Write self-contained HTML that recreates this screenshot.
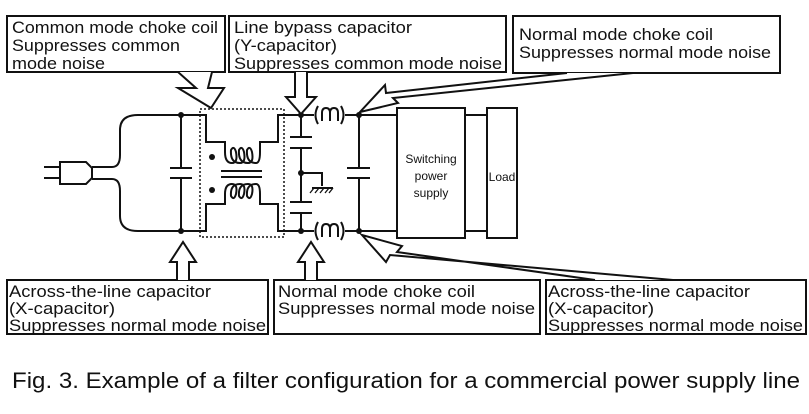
<!DOCTYPE html>
<html><head><meta charset="utf-8"><style>
html,body{margin:0;padding:0;background:#fff}
svg{display:block}
text{font-family:"Liberation Sans",Arial,sans-serif;fill:#111}
</style></head><body>
<svg width="809" height="414" viewBox="0 0 809 414">
<g stroke="#111" stroke-width="2" fill="none">
<g>
<line x1="44" y1="167" x2="60" y2="167"/><line x1="44" y1="178" x2="60" y2="178"/>
<path d="M60 162 H86 L92 168 V178 L86 184 H60 Z"/>
<path d="M92 167 H112 Q120 167 120 155 V130 Q120 115 138 115 H181"/>
<path d="M92 179 H112 Q120 179 120 191 V216 Q120 231 138 231 H181"/>
</g>
<g>
<path d="M181 115 V168 M170 168 H192 M170 178 H192 M181 178 V231"/>
</g>
<g>
<path d="M181 115 H206 V142 H225 V152 Q225 163 232 163 Q238 163 236 152 Q234 145 231 150 Q230 163 240 163 Q246 163 244 152 Q242 145 239 150 Q238 163 248 163 Q254 163 252 152 Q250 145 247 150 Q246 163 256 163 Q260 163 260 152 V142 H278 V115 H301"/>
<path d="M181 231 H206 V204 H225 V194 Q225 184 232 184 Q238 184 236 194 Q234 201 231 196 Q230 184 240 184 Q246 184 244 194 Q242 201 239 196 Q238 184 248 184 Q254 184 252 194 Q250 201 247 196 Q246 184 256 184 Q260 184 260 194 V204 H278 V231 H301"/>
<line x1="221" y1="171" x2="262" y2="171"/><line x1="221" y1="177" x2="262" y2="177"/>
</g>
<rect x="200" y="109" width="84" height="128" stroke-width="1.5" stroke-dasharray="2,2"/>
<g>
<path d="M301 115 V137 M290 137 H312 M290 148 H312 M301 148 V202 M290 202 H312 M290 213 H312 M301 213 V231"/>
<path d="M301 173 H322 V186 M312 188 H333" />
<path d="M314 188 L310 193 M319 188 L315 193 M324 188 L320 193 M329 188 L325 193 M333 188 L329 193" stroke-width="1.3"/>
</g>
<g>
<path d="M301 115 H314 M345 115 H397"/>
<path d="M301 231 H314 M345 231 H397"/>
<path d="M318 106 Q313 115 318 124 M341 106 Q346 115 341 124"/>
<path d="M322 121 V113 Q322 108 326 108 Q330 108 330 113 V121 M330 113 Q330 108 334 108 Q338 108 338 113 V121"/>
<path d="M318 222 Q313 231 318 240 M341 222 Q346 231 341 240"/>
<path d="M322 237 V229 Q322 224 326 224 Q330 224 330 229 V237 M330 229 Q330 224 334 224 Q338 224 338 229 V237"/>
</g>
<path d="M359 115 V168 M347 168 H370 M347 178 H370 M359 178 V231"/>
<rect x="397" y="108" width="68" height="130"/>
<path d="M465 115 H487 M465 231 H487"/>
<rect x="487" y="108" width="30" height="130"/>
</g>
<g fill="#111">
<circle cx="181" cy="115" r="3"/><circle cx="181" cy="231" r="3"/>
<circle cx="301" cy="115" r="3"/><circle cx="301" cy="231" r="3"/><circle cx="301" cy="173" r="3"/>
<circle cx="359" cy="115" r="3"/><circle cx="359" cy="231" r="3"/>
<circle cx="212" cy="157" r="3"/><circle cx="212" cy="190" r="3"/>
</g>
<text x="431" y="163" font-size="12" text-anchor="middle">Switching</text>
<text x="431" y="180" font-size="12" text-anchor="middle">power</text>
<text x="431" y="197" font-size="12" text-anchor="middle">supply</text>
<text x="502" y="181" font-size="12" text-anchor="middle">Load</text>

<g stroke="#111" stroke-width="2" fill="#fff">
<rect x="7" y="16" width="218" height="56"/>
<rect x="229" y="16" width="277" height="56"/>
<rect x="513" y="16" width="267" height="57"/>
<rect x="7" y="280" width="261" height="54"/>
<rect x="274" y="280" width="266" height="54"/>
<rect x="546" y="280" width="260" height="54"/>
</g>
<g stroke="#111" stroke-width="2" fill="#fff" stroke-linejoin="miter">
<path d="M178 72 L196 88 L178 88 L211 108 L224 88 L208 88 L212 72"/>
<path d="M295 72 V97 H286 L301 114 L316 97 H307 V72"/>
<path d="M567 73 L386 93 L385 85 L360 112 L398 103 L393 98 L633 73"/>
<path d="M177 280 V262 H170 L183 242 L196 262 H189 V280"/>
<path d="M305 280 V262 H298 L311 242 L324 262 H317 V280"/>
<path d="M595 280 L397 252 L402 246 L362 235 L386 262 L390 255 L673 280"/>
</g>
<g font-size="17">
<text x="12" y="33" textLength="206" lengthAdjust="spacingAndGlyphs">Common mode choke coil</text>
<text x="12" y="51" textLength="168" lengthAdjust="spacingAndGlyphs">Suppresses common</text>
<text x="12" y="69" textLength="93" lengthAdjust="spacingAndGlyphs">mode noise</text>
<text x="234" y="33" textLength="178" lengthAdjust="spacingAndGlyphs">Line bypass capacitor</text>
<text x="234" y="51" textLength="103" lengthAdjust="spacingAndGlyphs">(Y-capacitor)</text>
<text x="234" y="69" textLength="268" lengthAdjust="spacingAndGlyphs">Suppresses common mode noise</text>
<text x="519" y="40" textLength="194" lengthAdjust="spacingAndGlyphs">Normal mode choke coil</text>
<text x="519" y="58" textLength="252" lengthAdjust="spacingAndGlyphs">Suppresses normal mode noise</text>
<text x="9" y="297" textLength="202" lengthAdjust="spacingAndGlyphs">Across-the-line capacitor</text>
<text x="9" y="314" textLength="106" lengthAdjust="spacingAndGlyphs">(X-capacitor)</text>
<text x="9" y="331" textLength="257" lengthAdjust="spacingAndGlyphs">Suppresses normal mode noise</text>
<text x="278" y="297" textLength="197" lengthAdjust="spacingAndGlyphs">Normal mode choke coil</text>
<text x="278" y="314" textLength="257" lengthAdjust="spacingAndGlyphs">Suppresses normal mode noise</text>
<text x="548" y="297" textLength="202" lengthAdjust="spacingAndGlyphs">Across-the-line capacitor</text>
<text x="548" y="314" textLength="106" lengthAdjust="spacingAndGlyphs">(X-capacitor)</text>
<text x="548" y="331" textLength="255" lengthAdjust="spacingAndGlyphs">Suppresses normal mode noise</text>
</g>
<text x="12" y="388" font-size="22" textLength="788" lengthAdjust="spacingAndGlyphs">Fig. 3. Example of a filter configuration for a commercial power supply line</text>
</svg>
</body></html>
